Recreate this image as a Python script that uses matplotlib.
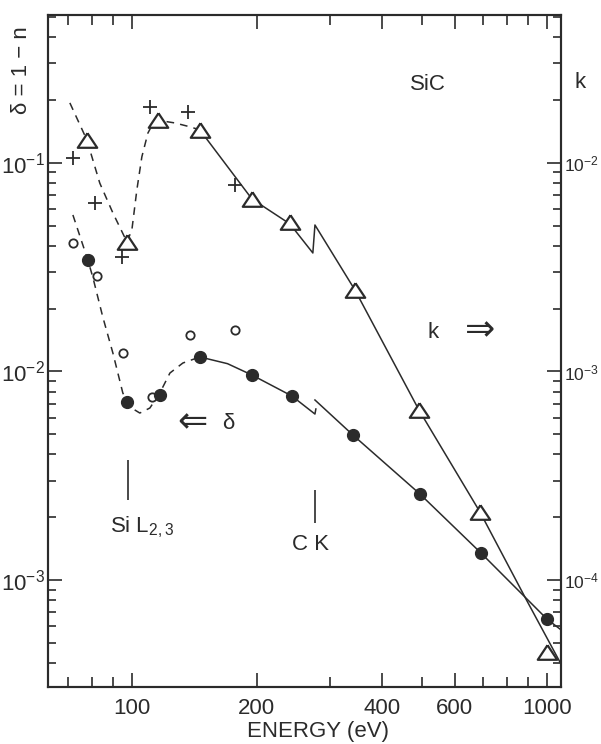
import matplotlib
matplotlib.use("Agg")
import matplotlib.pyplot as plt
import numpy as np
from matplotlib.ticker import LogLocator, FixedLocator, FixedFormatter, NullFormatter, LogFormatterMathtext

plt.rcParams['font.family'] = ['Liberation Sans', 'DejaVu Sans']
plt.rcParams['mathtext.fontset'] = 'custom'
plt.rcParams['mathtext.rm'] = 'Liberation Sans'
plt.rcParams['mathtext.it'] = 'Liberation Sans:italic'
plt.rcParams['mathtext.bf'] = 'Liberation Sans:bold'

ink = '#2b2b2b'

#data: k (triangles, crosses) and delta (filled / open circles)
tri_E = [77.9, 97.3, 115.5, 145.8, 194.6, 240.3, 344.6, 491.5, 689.6, 1000]
tri_k = [0.0129, 0.00418, 0.0161, 0.0144, 0.00672, 0.00521, 0.00246, 6.54e-4, 2.12e-4, 4.52e-5]

cross_E = [72.1, 81.4, 94.6, 110.5, 136.4, 177.0]
cross_k = [0.01057, 0.00643, 0.00354, 0.01856, 0.01756, 0.00784]

dot_E = [78.3, 97.3, 116.8, 145.8, 194.6, 242.9, 340.8, 494.3, 693.4, 1000]
dot_d = [0.0343, 0.00714, 0.00772, 0.01174, 0.00962, 0.00763, 0.00496, 0.002585, 0.001348, 6.5e-4]

open_E = [72.1, 82.4, 95.1, 111.7, 138.0, 177.0]
open_d = [0.0413, 0.0287, 0.01227, 0.00754, 0.01496, 0.0158]

#curves
k_dash_E = [70.9, 77.9, 83.7, 90.0, 97.3, 100.0, 102.8, 105.7, 109.3, 113.6, 126.9, 138.0, 145.8]
k_dash = [0.0194, 0.0129, 0.0080, 0.00576, 0.00418, 0.00477, 0.00742, 0.0107, 0.0139, 0.0161, 0.01555, 0.0149, 0.0144]

k_line_E = [145.8, 194.6, 240.3, 272.9, 276.1, 344.6, 491.5, 689.6, 890, 1075]
k_line = [0.0144, 0.00672, 0.0051, 0.0037, 0.00504, 0.00246, 6.54e-4, 2.12e-4, 8.11e-5, 4.04e-5]

d_dash_E = [72.1, 78.3, 80.5, 85.1, 90.0, 95.1, 98.9, 104.5, 110.5, 116.8, 123.5, 132.7, 145.8]
d_dash = [0.0563, 0.0343, 0.0284, 0.01826, 0.01227, 0.00789, 0.00676, 0.00632, 0.00668, 0.00789, 0.00983, 0.01098, 0.01174]

d_line1_E = [145.8, 170, 194.6, 242.9, 276.1, 277.5]
d_line1 = [0.01174, 0.0109, 0.00962, 0.00763, 0.00625, 0.00661]
d_line2_E = [276.1, 340.8, 494.3, 693.4, 1000, 1075]
d_line2 = [0.0073, 0.00496, 0.002585, 0.001348, 6.5e-4, 5.82e-4]

#absorption edges
edge_E = [97.8, 276.1]
edge_lo = [0.00242, 0.00188]
edge_hi = [0.00376, 0.0027]

xticks = [100, 200, 400, 600, 1000]
xticklabels = ['100', '200', '400', '600', '1000']
xminor = [70, 80, 90, 300, 500, 700, 800, 900]

W, H = 601, 744
fig = plt.figure(figsize=(W / 100, H / 100), dpi=100)
ax = fig.add_axes([48 / W, 1 - 687 / H, (561 - 48) / W, (687 - 15) / H])
ax.set_xscale('log')
ax.set_yscale('log')
ax.set_xlim(62.8, 1081)
ax.set_ylim(3.07e-4, 0.512)

ax2 = ax.twinx()
ax2.set_yscale('log')
ax2.set_ylim(3.07e-5, 0.0512)

for a in (ax, ax2):
    for s in a.spines.values():
        s.set_linewidth(1.5)
        s.set_color(ink)

ax.xaxis.set_major_locator(FixedLocator(xticks))
ax.xaxis.set_major_formatter(FixedFormatter(xticklabels))
ax.xaxis.set_minor_locator(FixedLocator(xminor))
ax.xaxis.set_minor_formatter(NullFormatter())
for a in (ax, ax2):
    a.yaxis.set_major_locator(LogLocator(base=10, numticks=10))
    a.yaxis.set_major_formatter(LogFormatterMathtext())
    a.yaxis.set_minor_locator(LogLocator(base=10, subs=np.arange(2, 10), numticks=10))
    a.yaxis.set_minor_formatter(NullFormatter())

ax.tick_params(axis='x', which='both', direction='in', top=True, bottom=True,
               colors=ink, labelsize=16, pad=8)
ax.tick_params(axis='x', which='major', length=10, width=1.2)
ax.tick_params(axis='x', which='minor', length=7, width=1.2)
ax.tick_params(axis='y', which='both', direction='in', left=True, right=False,
               colors=ink, labelsize=16, pad=2)
ax.tick_params(axis='y', which='major', length=10, width=1.2)
ax.tick_params(axis='y', which='minor', length=6, width=1.2)
ax2.tick_params(axis='y', which='both', direction='in', left=False, right=True,
                colors=ink, labelsize=12.5, pad=2)
ax2.tick_params(axis='y', which='major', length=10, width=1.2)
ax2.tick_params(axis='y', which='minor', length=6, width=1.2)

#curves
ax2.plot(k_dash_E, k_dash, color=ink, lw=1.1, dashes=(5, 4))
ax2.plot(k_line_E, k_line, color=ink, lw=1.1)
ax.plot(d_dash_E, d_dash, color=ink, lw=1.1, dashes=(5, 4))
ax.plot(d_line1_E, d_line1, color=ink, lw=1.1)
ax.plot(d_line2_E, d_line2, color=ink, lw=1.1)

#markers
tri = [(0, 0.75), (-1, -0.75), (1, -0.75), (0, 0.75)]
ax2.plot(tri_E, tri_k, ls='none', marker=tri, ms=14, mew=1.6, mfc='white', mec=ink, zorder=5)
ax2.plot(cross_E, cross_k, ls='none', marker='+', ms=10, mew=1.3, color=ink, zorder=5)
ax.plot(dot_E, dot_d, ls='none', marker='o', ms=8.5, mfc=ink, mec=ink, zorder=5)
ax.plot(open_E, open_d, ls='none', marker='o', ms=6, mew=1.3, mfc='white', mec=ink, zorder=4)

ax.vlines(edge_E, edge_lo, edge_hi, color=ink, lw=1.2)

#text
def ftext(x, y, s, **kw):
    kw.setdefault('fontsize', 16)
    fig.text(x / W, 1 - y / H, s, color=ink, ha='center', va='center', **kw)

ftext(22, 70, 'δ = 1 − n', rotation=90)
ftext(580, 82, 'k')
ftext(428, 84, 'SiC')
ftext(433, 333, 'k')
ftext(480, 331, '⇒', fontsize=26)
ftext(192, 423, '⇐', fontsize=26)
ftext(228, 423, 'δ')
ftext(142, 527, 'Si L$_{2,3}$')
ftext(310, 545, 'C K')
ftext(318, 732, 'ENERGY (eV)')

fig.savefig('out.png', dpi=100)
